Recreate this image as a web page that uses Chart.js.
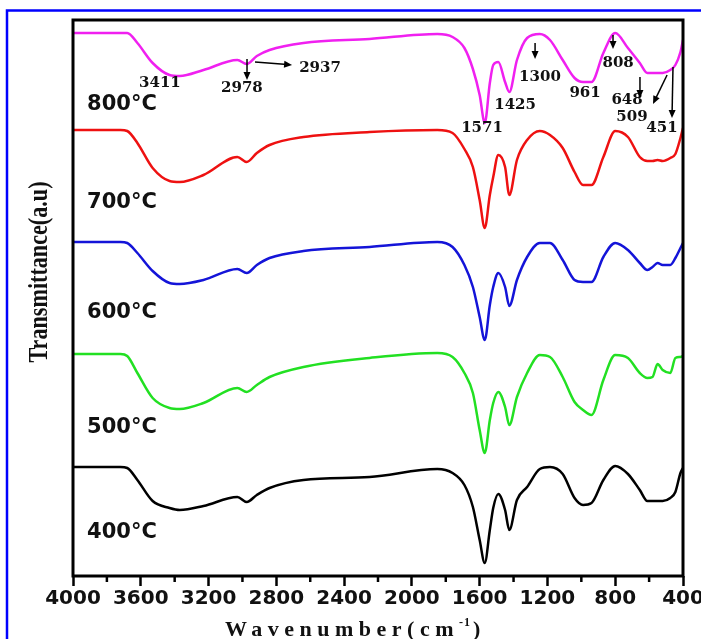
<!DOCTYPE html>
<html>
<head>
<meta charset="utf-8">
<script src="https://cdn.jsdelivr.net/npm/chart.js@4.4.1/dist/chart.umd.min.js"></script>
<style>
  html, body { margin: 0; padding: 0; background: #fff; }
  #box { position: relative; width: 701px; height: 639px; }
</style>
</head>
<body>
<div id="box"><canvas id="ftir"></canvas></div>
<script>
// wavenumber grid (cm-1) shared by the five spectra
const wavenumbers = [4000, 3720, 3680, 3620, 3530, 3430, 3370, 3230, 3030, 2975, 2915, 2840, 2640, 2250, 1850,
  1760, 1690, 1640, 1600, 1570, 1540, 1520, 1490, 1450, 1425, 1380, 1320, 1245, 1185, 1110,
  1040, 990, 940, 870, 800, 725, 655, 610, 580, 550, 520, 475, 445, 415, 400];

// stacked transmittance (a.u.), each spectrum already offset
const t800 = [543, 543, 543, 533, 513, 501, 500, 506, 516, 512, 520, 526, 533, 537, 542,
  539, 528, 507, 481, 453, 493, 511, 514, 494, 484, 516, 538, 542, 536, 516,
  498, 494, 494, 523, 543, 528, 513, 503, 503, 503, 503, 506, 511, 524, 536];
const t700 = [446, 446, 445, 433, 408, 395, 394, 401, 419, 414, 423, 431, 439, 444, 446,
  443, 427, 409, 376, 348, 381, 399, 421, 409, 381, 416, 436, 445, 441, 428,
  404, 391, 391, 419, 445, 439, 419, 415, 415, 416, 415, 418, 422, 438, 448];
const t600 = [334, 334, 333, 323, 305, 293, 292, 296, 307, 303, 311, 318, 325, 329, 334,
  329, 311, 289, 259, 236, 271, 289, 303, 289, 270, 296, 319, 333, 333, 316,
  296, 294, 294, 319, 333, 326, 313, 306, 309, 313, 311, 311, 318, 328, 333];
const t500 = [222, 222, 220, 203, 178, 168, 167, 173, 188, 184, 191, 199, 209, 218, 223,
  219, 203, 183, 146, 123, 156, 173, 184, 169, 151, 179, 203, 221, 219, 199,
  174, 166, 161, 196, 221, 218, 203, 198, 199, 212, 206, 203, 218, 219, 220];
const t400 = [109, 109, 108, 96, 75, 68, 66, 70, 79, 74, 81, 88, 96, 99, 107,
  103, 91, 69, 36, 13, 46, 68, 82, 66, 46, 76, 89, 107, 109, 102,
  78, 71, 73, 96, 110, 102, 86, 75, 75, 75, 75, 78, 84, 103, 108];

const seriesNames = ['800°C', '700°C', '600°C', '500°C', '400°C'];
const seriesData = [t800, t700, t600, t500, t400];
const seriesColors = ['#f020f0', '#ee1111', '#1414d8', '#22e022', '#000000'];

// where the temperature names sit (wavenumber, a.u.)
const nameWn = [3917, 3917, 3917, 3917, 3917];
const nameVal = [471, 373, 263, 148, 43];

// band labels on the 800 °C spectrum
const bandText = ['3411', '2978', '2937', '1571', '1425', '1300', '961', '808', '648', '509', '451'];
const bandWn = [3487, 3003, 2542, 1586, 1391, 1244, 978, 783, 730, 701, 524];
const bandVal = [493, 488, 508, 448, 471, 499, 483, 513, 476, 459, 448];

// arrows: [from wn, from val, to wn, to val]
const arrows = [
  [2973, 517, 2973, 496],
  [2926, 514, 2707, 511],
  [1273, 533, 1273, 517],
  [813, 541, 813, 527],
  [654, 499, 654, 478],
  [494, 501, 577, 472],
  [459, 509, 465, 458],
];

const datasets = seriesData.map((vals, i) => ({
  label: seriesNames[i],
  data: vals.map((v, j) => ({ x: wavenumbers[j], y: v })),
  borderColor: seriesColors[i],
  borderWidth: 2.5,
  pointRadius: 0,
  fill: false,
  cubicInterpolationMode: 'monotone',
}));

function arrow(ctx, x0, y0, x1, y1) {
  const ang = Math.atan2(y1 - y0, x1 - x0);
  const L = 8, W = 3.5;
  ctx.beginPath();
  ctx.moveTo(x0, y0);
  ctx.lineTo(x1 - L * 0.6 * Math.cos(ang), y1 - L * 0.6 * Math.sin(ang));
  ctx.stroke();
  ctx.beginPath();
  ctx.moveTo(x1, y1);
  ctx.lineTo(x1 - L * Math.cos(ang) + W * Math.sin(ang), y1 - L * Math.sin(ang) - W * Math.cos(ang));
  ctx.lineTo(x1 - L * Math.cos(ang) - W * Math.sin(ang), y1 - L * Math.sin(ang) + W * Math.cos(ang));
  ctx.closePath();
  ctx.fill();
}

const decor = {
  id: 'decor',
  beforeDraw(chart) {
    const ctx = chart.ctx;
    ctx.save();
    ctx.fillStyle = '#fff';
    ctx.fillRect(0, 0, chart.width, chart.height);
    ctx.strokeStyle = '#0000ff';
    ctx.lineWidth = 2.5;
    ctx.beginPath();
    ctx.moveTo(7, chart.height);
    ctx.lineTo(7, 10.5);
    ctx.lineTo(chart.width, 10.5);
    ctx.stroke();
    ctx.restore();
  },
  afterDraw(chart) {
    const { ctx, chartArea: a } = chart;
    const x = chart.scales.x, y = chart.scales.y;
    ctx.save();

    // plot frame
    ctx.strokeStyle = '#000';
    ctx.lineWidth = 3;
    ctx.strokeRect(a.left, a.top, a.right - a.left, a.bottom - a.top);

    // minor ticks between the labelled ones
    ctx.lineWidth = 2.5;
    for (let w = 600; w < 4000; w += 400) {
      const px = x.getPixelForValue(w);
      ctx.beginPath();
      ctx.moveTo(px, a.bottom);
      ctx.lineTo(px, a.bottom + 6);
      ctx.stroke();
    }

    // temperature names
    ctx.fillStyle = '#111';
    ctx.font = 'bold 21px "DejaVu Sans"';
    ctx.textAlign = 'left';
    ctx.textBaseline = 'middle';
    seriesNames.forEach((n, i) => {
      ctx.fillText(n, x.getPixelForValue(nameWn[i]), y.getPixelForValue(nameVal[i]));
    });

    // band labels and arrows
    ctx.font = 'bold 15px "DejaVu Serif"';
    ctx.textAlign = 'center';
    bandText.forEach((t, i) => {
      ctx.fillText(t, x.getPixelForValue(bandWn[i]), y.getPixelForValue(bandVal[i]));
    });
    ctx.strokeStyle = '#000';
    ctx.fillStyle = '#000';
    ctx.lineWidth = 1.5;
    arrows.forEach(r => {
      arrow(ctx, x.getPixelForValue(r[0]), y.getPixelForValue(r[1]),
        x.getPixelForValue(r[2]), y.getPixelForValue(r[3]));
    });

    // x axis title, letter spaced like the original
    ctx.fillStyle = '#111';
    ctx.textAlign = 'left';
    ctx.textBaseline = 'alphabetic';
    ctx.font = 'bold 22px "Liberation Serif"';
    ctx.letterSpacing = '5.5px';
    let tx = 225;
    const base = 636;
    ctx.fillText('Wavenumber(cm', tx, base);
    tx += ctx.measureText('Wavenumber(cm').width;
    ctx.font = 'bold 12px "Liberation Serif"';
    ctx.letterSpacing = '1px';
    ctx.fillText('-1', tx, base - 10);
    tx += ctx.measureText('-1').width + 2;
    ctx.font = 'bold 22px "Liberation Serif"';
    ctx.letterSpacing = '0px';
    ctx.fillText(')', tx, base);

    // y axis title, condensed
    ctx.translate(40, 272);
    ctx.rotate(-Math.PI / 2);
    ctx.font = 'bold 27px "Liberation Serif"';
    ctx.textAlign = 'center';
    ctx.textBaseline = 'middle';
    const yt = 'Transmittance(a.u)';
    ctx.scale(181 / ctx.measureText(yt).width, 1);
    ctx.fillText(yt, 0, 0);
    ctx.restore();
  }
};

new Chart(document.getElementById('ftir'), {
  type: 'line',
  data: { datasets: datasets },
  plugins: [decor],
  options: {
    responsive: true,
    maintainAspectRatio: false,
    animation: false,
    layout: { padding: { top: 20, right: 18, left: 0, bottom: 0 } },
    plugins: { legend: { display: false }, tooltip: { enabled: false } },
    scales: {
      x: {
        type: 'linear',
        reverse: true,
        min: 400,
        max: 4000,
        border: { display: false },
        grid: { drawOnChartArea: false, drawTicks: true, tickLength: 10, tickWidth: 2.5, tickColor: '#000' },
        ticks: {
          stepSize: 400,
          autoSkip: false,
          maxRotation: 0,
          padding: 1,
          color: '#111',
          font: { family: 'DejaVu Sans', weight: 'bold', size: 20 },
          callback: v => String(v),
        },
        afterFit(scale) {
          scale.height = 63;
          scale.paddingLeft = 0;
          scale.paddingRight = 0;
        },
      },
      y: {
        min: 0,
        max: 556,
        border: { display: false },
        grid: { display: false },
        ticks: { display: false },
        afterFit(scale) {
          scale.width = 73;
          scale.paddingTop = 0;
          scale.paddingBottom = 0;
        },
      },
    },
  },
});
</script>
</body>
</html>
